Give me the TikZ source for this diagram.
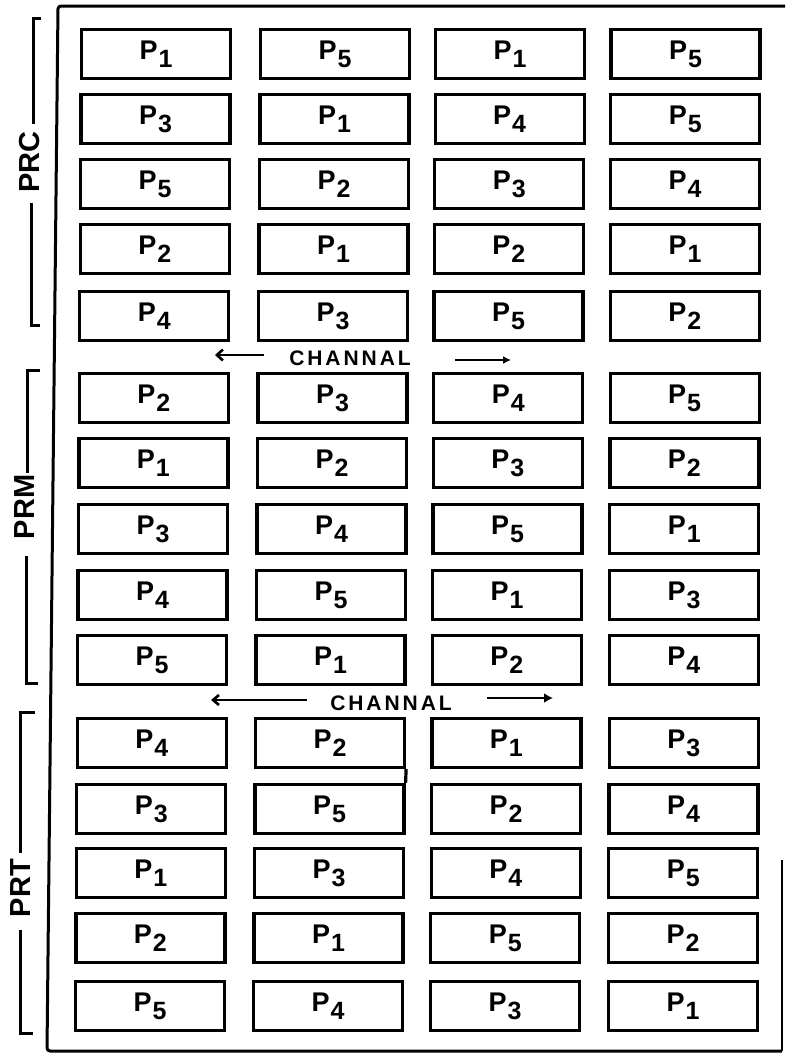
\documentclass[tikz,border=0pt]{standalone}
\usepackage{fontspec}
\setmainfont{Liberation Sans}
\newfontfamily\chfont[LetterSpace=14]{Liberation Sans}
\usetikzlibrary{arrows.meta}
\newcommand{\Pn}[1]{P\kern1pt\raisebox{-8pt}{\fontsize{25}{25}\selectfont #1}}
\begin{document}
\begin{tikzpicture}[x=1pt,y=-1pt,
  box/.style={draw, line width=3.2pt, minimum width=149pt, minimum height=49pt, inner sep=0pt, font=\bfseries\fontsize{27}{27}\selectfont},
  frame/.style={line width=3pt, line join=round},
  brk/.style={line width=3pt},
  grp/.style={font=\bfseries\fontsize{29}{29}\selectfont, rotate=90, inner sep=0pt},
  chan/.style={font=\chfont\bfseries\fontsize{21}{21}\selectfont, inner sep=0pt},
  arr/.style={line width=2.6pt}]
\useasboundingbox (0,0) rectangle (785,1055);

% outer frame
\draw[frame, rounded corners=3pt] (785,6) -- (58,6) -- (47,1051) -- (782,1051);
\draw[line width=1.2pt] (782,1051) -- (782,860);

% boxes
\foreach \r/\a/\b/\c/\d [count=\i] in {
  54/1/5/1/5, 119/3/1/4/5, 184/5/2/3/4, 249/2/1/2/1, 316/4/3/5/2,
  398/2/3/4/5, 463/1/2/3/2, 529/3/4/5/1, 595/4/5/1/3, 660/5/1/2/4,
  743/4/2/1/3, 809/3/5/2/4, 873/1/3/4/5, 938/2/1/5/2, 1006/5/4/3/1}{
  \pgfmathsetmacro\f{(\i-1)/14}
  \node[box] (b\i-1) at ({156-6*\f},\r) {\Pn{\a}};
  \node[box] (b\i-2) at ({335-7*\f},\r) {\Pn{\b}};
  \node[box] (b\i-3) at ({510-5*\f},\r) {\Pn{\c}};
  \node[box] (b\i-4) at ({685.5-2.5*\f},\r) {\Pn{\d}};
}
\draw[line width=3.2pt] (b11-2.south east) -- (b12-2.north east);

% group brackets
\node[grp] (prc) at (30,162) {PRC};
\node[grp] (prm) at (25,507) {PRM};
\node[grp] (prt) at (21,888) {PRT};
\draw[brk] (41,18) -- (33,18) -- (33,124);
\draw[brk] (31,203) -- (31,325) -- (40,325);
\draw[brk] (40,370) -- (27,370) -- (27,473);
\draw[brk] (26,556) -- (26,683) -- (38,683);
\draw[brk] (35,712) -- (20,712) -- (20,853);
\draw[brk] (20,930) -- (20,1033) -- (33,1033);

% channels
\node[chan] (ch1) at (350,358) {CHANNAL};
\coordinate (c1l) at (264,355);
\coordinate (c1lt) at (215,355);
\coordinate (c1r) at (455,360);
\coordinate (c1rt) at (511,360);
\draw[arr,-{Straight Barb[length=6pt,width=11pt]}] (c1l) -- (c1lt);
\draw[arr,-{Latex[length=8pt,width=8pt]}] (c1r) -- (c1rt);

\node[chan] (ch2) at (391,703) {CHANNAL};
\coordinate (c2l) at (307,700);
\coordinate (c2lt) at (211,700);
\coordinate (c2r) at (487,698);
\coordinate (c2rt) at (553,698);
\draw[arr,-{Straight Barb[length=6pt,width=10pt]}] (c2l) -- (c2lt);
\draw[arr,-{Latex[length=9pt,width=10pt]}] (c2r) -- (c2rt);
\end{tikzpicture}
\end{document}
